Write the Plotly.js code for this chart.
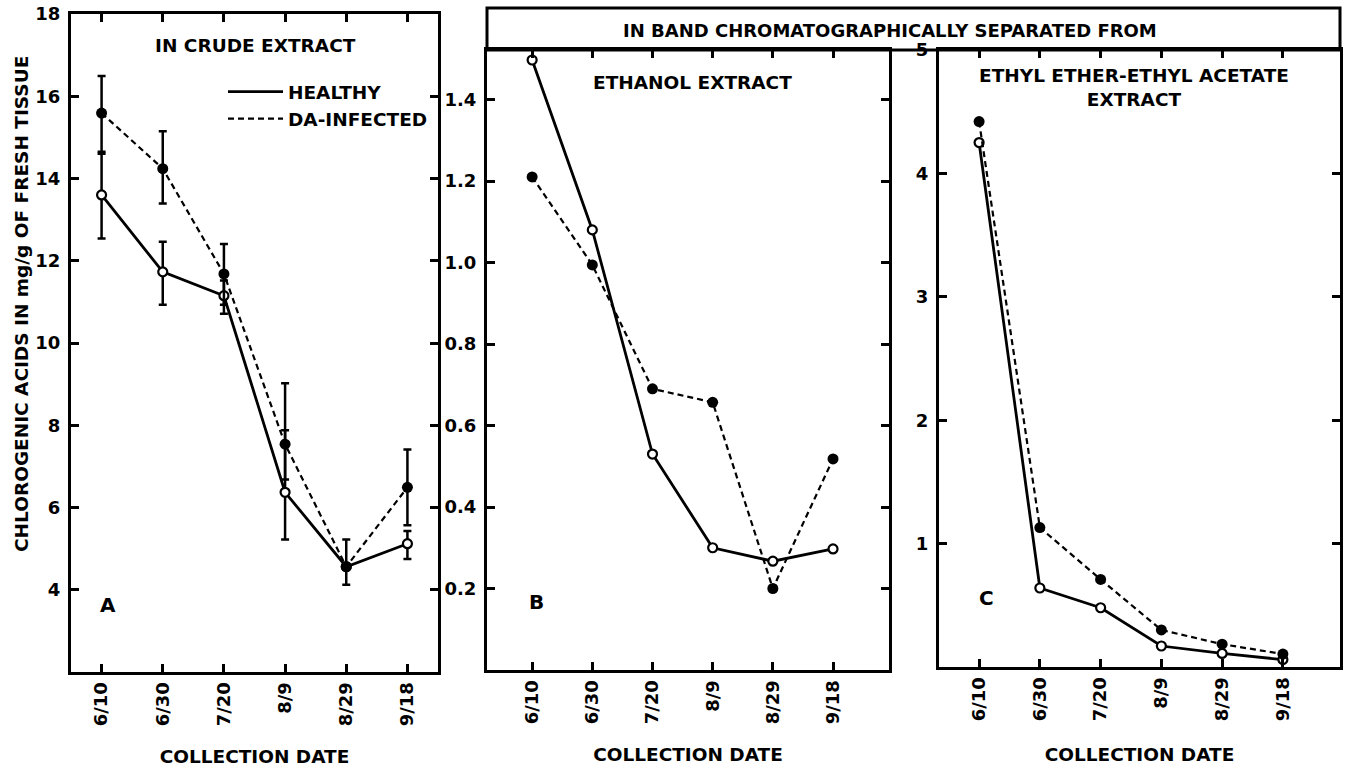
<!DOCTYPE html>
<html>
<head>
<meta charset="utf-8">
<script src="https://cdn.plot.ly/plotly-3.0.1.min.js"></script>
<style>
  html, body { margin: 0; padding: 0; background: #fff; }
  #chart { width: 1348px; height: 767px; }
</style>
</head>
<body>
<div id="chart"></div>
<script>
// ---- data ----
const dates = ['6/10', '6/30', '7/20', '8/9', '8/29', '9/18'];

// Panel A: crude extract (mg/g fresh tissue)
const crudeHealthy  = [13.6, 11.73, 11.15, 6.37, 4.56, 5.12];
const crudeInfected = [15.59, 14.24, 11.68, 7.54, 4.56, 6.49];
const crudeHealthyErrUp    = [1.05, 0.73, 0.37, 1.51, 0, 0.31];
const crudeHealthyErrDown  = [1.06, 0.80, 0.44, 1.15, 0, 0.37];
const crudeInfectedErrUp   = [0.90, 0.91, 0.73, 1.48, 0.66, 0.92];
const crudeInfectedErrDown = [0.99, 0.85, 0.75, 0.86, 0.44, 0.92];

// Panel B: ethanol extract
const ethanolHealthy  = [1.497, 1.08, 0.53, 0.30, 0.267, 0.297];
const ethanolInfected = [1.21, 0.994, 0.69, 0.657, 0.20, 0.518];

// Panel C: ethyl ether-ethyl acetate extract
const etherHealthy  = [4.25, 0.64, 0.48, 0.17, 0.11, 0.06];
const etherInfected = [4.42, 1.13, 0.71, 0.30, 0.185, 0.105];

const seriesNames = ['HEALTHY', 'DA-INFECTED'];
const crudeTicks   = [4, 6, 8, 10, 12, 14, 16, 18];
const ethanolTicks = [0.2, 0.4, 0.6, 0.8, 1.0, 1.2, 1.4];
const etherTicks   = [1, 2, 3, 4, 5];

// ---- styling ----
const W = 1348, H = 767;
const F = 'DejaVu Sans';
const px = x => x / W;
const py = y => 1 - y / H;
const font = (size) => ({ family: F, size: size, weight: 700, color: '#000' });

const healthyStyle = {
  mode: 'lines+markers',
  line: { color: '#000', width: 2.8 },
  marker: { symbol: 'circle', size: 9, color: '#fff', line: { color: '#000', width: 2.2 } },
  showlegend: false, cliponaxis: false, hoverinfo: 'x+y'
};
const infectedStyle = {
  mode: 'lines+markers',
  line: { color: '#000', width: 2.2, dash: '6px,4px' },
  marker: { symbol: 'circle', size: 11, color: '#000' },
  showlegend: false, cliponaxis: false, hoverinfo: 'x+y'
};
const errStyle = (up, down) => ({
  type: 'data', symmetric: false, array: up, arrayminus: down,
  color: '#000', thickness: 2.5, width: 4
});

const traces = [
  Object.assign({}, healthyStyle, { x: dates, y: crudeHealthy, name: seriesNames[0],
    xaxis: 'x', yaxis: 'y', error_y: errStyle(crudeHealthyErrUp, crudeHealthyErrDown) }),
  Object.assign({}, infectedStyle, { x: dates, y: crudeInfected, name: seriesNames[1],
    xaxis: 'x', yaxis: 'y', error_y: errStyle(crudeInfectedErrUp, crudeInfectedErrDown) }),
  Object.assign({}, healthyStyle, { x: dates, y: ethanolHealthy, name: seriesNames[0], xaxis: 'x2', yaxis: 'y2' }),
  Object.assign({}, infectedStyle, { x: dates, y: ethanolInfected, name: seriesNames[1], xaxis: 'x2', yaxis: 'y2' }),
  Object.assign({}, healthyStyle, { x: dates, y: etherHealthy, name: seriesNames[0], xaxis: 'x3', yaxis: 'y3' }),
  Object.assign({}, infectedStyle, { x: dates, y: etherInfected, name: seriesNames[1], xaxis: 'x3', yaxis: 'y3' }),
  // legend-only entries (line samples only)
  { x: [null], y: [null], mode: 'lines', name: seriesNames[0], xaxis: 'x', yaxis: 'y',
    line: { color: '#000', width: 2.8 }, showlegend: true },
  { x: [null], y: [null], mode: 'lines', name: seriesNames[1], xaxis: 'x', yaxis: 'y',
    line: { color: '#000', width: 2.2, dash: '6px,4px' }, showlegend: true }
];

const axBase = {
  showline: true, linewidth: 3, linecolor: '#000', mirror: 'ticks',
  ticks: 'inside', ticklen: 8, tickwidth: 2.5, tickcolor: '#000',
  showgrid: false, zeroline: false, tickfont: font(18), fixedrange: true
};
const xAx = (domain, range, anchor, standoff) => Object.assign({}, axBase, {
  type: 'category', domain: domain, range: range, anchor: anchor, tickangle: -90,
  title: { text: 'COLLECTION DATE', font: font(18.5), standoff: standoff }
});
const yAx = (domain, range, anchor, tickvals, fmt) => Object.assign({}, axBase, {
  domain: domain, range: range, anchor: anchor, tickvals: tickvals, tickformat: fmt,
  ticklabelstandoff: 4
});
const note = (text, x, y, size, extra) => Object.assign({
  text: text, xref: 'paper', yref: 'paper', x: px(x), y: py(y),
  xanchor: 'center', yanchor: 'middle', showarrow: false, font: font(size)
}, extra || {});

const layout = {
  width: W, height: H,
  margin: { l: 0, r: 0, t: 0, b: 0 },
  paper_bgcolor: '#fff', plot_bgcolor: '#fff',
  showlegend: true,
  legend: {
    x: px(223), y: py(73), xanchor: 'left', yanchor: 'top',
    bgcolor: 'rgba(0,0,0,0)', borderwidth: 0, font: font(18.5),
    itemwidth: 55, tracegroupgap: 0, itemclick: false, itemdoubleclick: false
  },
  xaxis:  xAx([px(71), px(438)], [-0.5, 5.5], 'y', 26),
  yaxis:  yAx([py(672), py(14)], [2, 18], 'x', crudeTicks, ''),
  xaxis2: xAx([px(487), px(889)], [-0.75, 5.93], 'y2', 25),
  yaxis2: yAx([py(670), py(50)], [0, 1.5215], 'x2', ethanolTicks, '.1f'),
  xaxis3: xAx([px(939), px(1340)], [-0.66, 5.94], 'y3', 28),
  yaxis3: yAx([py(667), py(50)], [0, 5], 'x3', etherTicks, ''),
  shapes: [
    { type: 'rect', xref: 'paper', yref: 'paper', x0: px(487), x1: px(1340), y0: py(50), y1: py(8),
      line: { color: '#000', width: 3 }, fillcolor: 'rgba(0,0,0,0)' }
  ],
  annotations: [
    note('CHLOROGENIC ACIDS IN mg/g OF FRESH TISSUE', 21, 304, 18.5, { textangle: -90 }),
    note('IN CRUDE EXTRACT', 255, 46, 18.5),
    note('IN BAND CHROMATOGRAPHICALLY SEPARATED FROM', 890, 30, 18),
    note('ETHANOL EXTRACT', 692, 82, 18.5),
    note('ETHYL ETHER-ETHYL ACETATE<br>EXTRACT', 1134, 87, 18.5),
    note('A', 108, 605, 20),
    note('B', 536, 602, 20),
    note('C', 986, 598, 20)
  ]
};

Plotly.newPlot('chart', traces, layout, { displayModeBar: false, staticPlot: false });
</script>
</body>
</html>
